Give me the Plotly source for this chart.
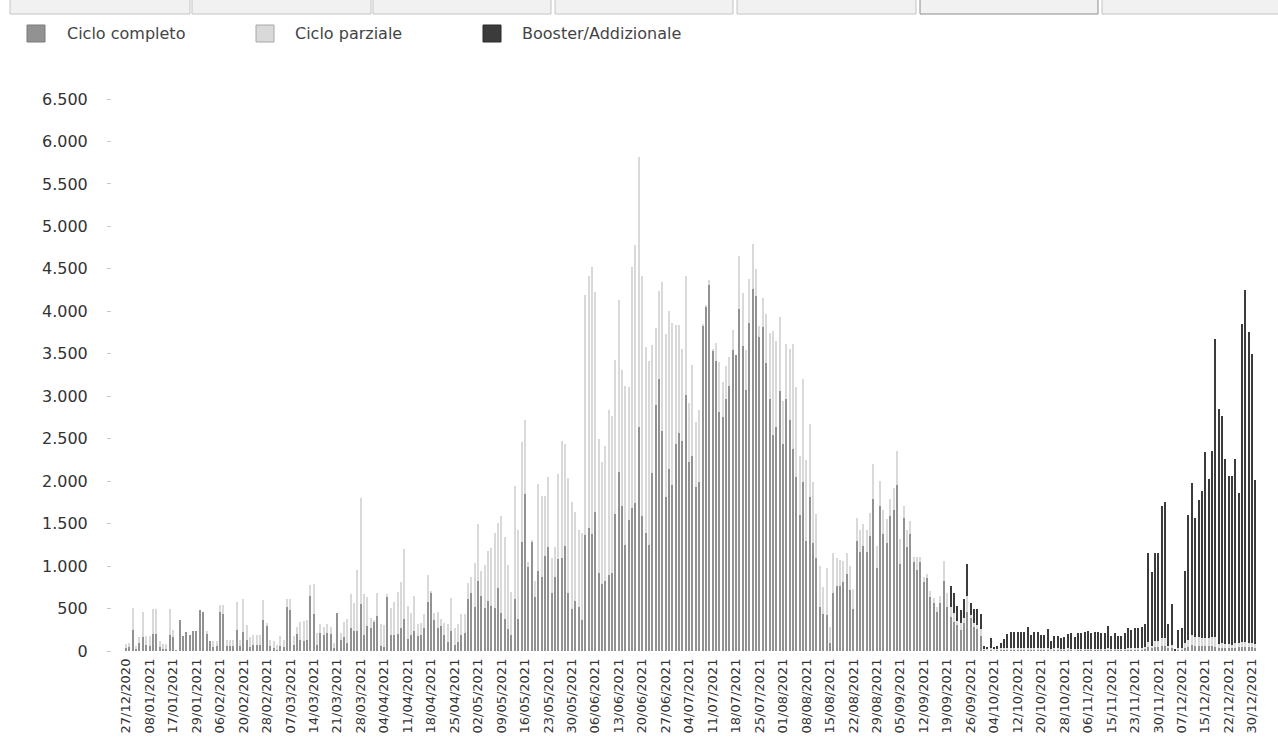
import datetime as dt
import plotly.graph_objects as go

# ---------------- DATA ----------------
TICK_LABELS = [
    "27/12/2020", "08/01/2021", "17/01/2021", "29/01/2021", "06/02/2021", "20/02/2021",
    "28/02/2021", "07/03/2021", "14/03/2021", "21/03/2021", "28/03/2021", "04/04/2021",
    "11/04/2021", "18/04/2021", "25/04/2021", "02/05/2021", "09/05/2021", "16/05/2021",
    "23/05/2021", "30/05/2021", "06/06/2021", "13/06/2021", "20/06/2021", "27/06/2021",
    "04/07/2021", "11/07/2021", "18/07/2021", "25/07/2021", "01/08/2021", "08/08/2021",
    "15/08/2021", "22/08/2021", "29/08/2021", "05/09/2021", "12/09/2021", "19/09/2021",
    "26/09/2021", "04/10/2021", "12/10/2021", "20/10/2021", "28/10/2021", "06/11/2021",
    "15/11/2021", "23/11/2021", "30/11/2021", "07/12/2021", "15/12/2021", "22/12/2021",
    "30/12/2021",
]
# number of daily categories that follow each tick label (inclusive)
DAYS_PER_TICK = [7] * 48 + [2]

SERIES_NAMES = ["Ciclo completo", "Ciclo parziale", "Booster/Addizionale"]

ciclo_completo = [
    31, 43, 248, 20, 90, 161, 71,
    59, 204, 204, 43, 27, 20, 189,
    161, 10, 362, 173, 220, 189, 236,
    236, 483, 464, 204, 118, 43, 59,
    464, 436, 59, 59, 59, 248, 59,
    220, 130, 43, 71, 71, 71, 365,
    295, 59, 30, 10, 59, 43, 523,
    483, 71, 204, 130, 118, 130, 652,
    436, 71, 216, 189, 216, 200, 31,
    452, 130, 161, 90, 275, 236, 236,
    554, 189, 295, 275, 346, 413, 59,
    51, 641, 189, 189, 200, 275, 377,
    141, 189, 236, 177, 189, 275, 582,
    680, 365, 275, 295, 189, 102, 236,
    71, 102, 189, 216, 609, 680, 523,
    829, 652, 511, 593, 534, 511, 747,
    452, 377, 259, 189, 613, 377, 1281,
    1851, 994, 1289, 641, 943, 876, 1124,
    1222, 688, 876, 1081, 1093, 1238, 688,
    495, 593, 523, 365, 1368, 1454, 1380,
    1631, 916, 790, 829, 896, 916, 1615,
    2106, 1713, 1250, 1545, 1682, 1741, 2633,
    1584, 1395, 1250, 2095, 2892, 3207, 2586,
    1812, 2146, 1957, 2441, 2566, 2468, 3018,
    2224, 2299, 1926, 1989, 3836, 4060, 4315,
    3529, 3419, 2810, 2755, 2967, 3124, 3549,
    3490, 4028, 3588, 3077, 3863, 4268, 4186,
    3694, 3812, 3392, 2967, 2547, 2633, 3065,
    2440, 2967, 2723, 2382, 2048, 1603, 1989,
    1297, 1808, 1270, 1093, 523, 436, 424,
    90, 688, 766, 766, 817, 904, 719,
    495, 1297, 1163, 1238, 1163, 1356, 1788,
    975, 1713, 1379, 1277, 1584, 1662, 1957,
    1022, 1572, 1222, 1379, 1053, 955, 1045,
    817, 857, 641, 562, 464, 562, 829,
    515, 405, 346, 306, 248, 334, 464,
    385, 287, 255, 181, 15, 10, 20,
    10, 15, 15, 20, 20, 20, 20,
    20, 15, 20, 15, 15, 15, 20,
    15, 15, 20, 10, 15, 15, 15,
    15, 15, 15, 10, 15, 15, 15,
    15, 15, 15, 15, 15, 15, 20,
    15, 15, 15, 15, 15, 20, 20,
    20, 20, 20, 25, 50, 30, 50,
    50, 60, 60, 30, 30, 5, 20,
    20, 40, 50, 70, 60, 60, 55,
    55, 60, 60, 50, 30, 40, 40,
    40, 35, 40, 45, 50, 50, 45,
    45, 40,
]

ciclo_parziale = [
    52, 55, 255, 39, 79, 303, 106,
    114, 287, 287, 75, 59, 66, 302,
    83, 0, 0, 0, 0, 0, 0,
    0, 0, 0, 32, 0, 75, 59,
    78, 106, 71, 71, 71, 334, 71,
    389, 177, 126, 118, 118, 118, 232,
    39, 71, 88, 60, 122, 90, 86,
    126, 110, 83, 216, 240, 232, 122,
    354, 145, 98, 98, 98, 87, 67,
    0, 86, 185, 283, 393, 326, 719,
    1246, 479, 346, 118, 8, 267, 259,
    255, 27, 314, 393, 500, 535, 826,
    393, 255, 416, 141, 145, 157, 314,
    27, 79, 189, 78, 145, 212, 385,
    204, 212, 243, 216, 189, 189, 511,
    664, 291, 503, 586, 684, 884, 766,
    1132, 971, 755, 511, 1332, 1050, 1175,
    865, 59, 20, 188, 1022, 955, 696,
    826, 405, 346, 1002, 1375, 1202, 1348,
    1254, 1038, 904, 1030, 2829, 2967, 3140,
    2598, 1584, 1434, 1588, 1938, 1847, 1816,
    2032, 1600, 1874, 1564, 2838, 3038, 3183,
    2837, 2181, 2161, 1505, 912, 1037, 1757,
    1925, 1863, 1906, 1395, 1270, 1089, 1403,
    696, 1073, 766, 845, 15, 8, 59,
    28, 208, 589, 413, 393, 334, 236,
    0, 621, 629, 472, 523, 519, 318,
    130, 346, 577, 778, 1218, 1014, 869,
    508, 649, 838, 1234, 1061, 696, 1218,
    955, 864, 719, 518, 479, 322, 551,
    197, 463, 334, 307, 244, 247, 283,
    232, 275, 264, 260, 264, 267, 417,
    263, 291, 283, 275, 204, 256, 393,
    298, 138, 205, 146, 59, 157, 67,
    59, 47, 66, 59, 59, 90, 232,
    165, 118, 106, 47, 86, 51, 189,
    39, 39, 51, 79, 10, 8, 20,
    8, 10, 15, 15, 20, 15, 15,
    15, 15, 15, 20, 15, 15, 15,
    15, 15, 15, 10, 15, 15, 10,
    10, 15, 10, 10, 10, 10, 10,
    10, 10, 10, 10, 10, 10, 15,
    10, 10, 10, 10, 10, 15, 15,
    15, 15, 15, 20, 60, 30, 70,
    70, 90, 90, 30, 40, 5, 20,
    20, 60, 80, 120, 100, 100, 95,
    95, 90, 100, 110, 50, 50, 40,
    40, 40, 50, 45, 60, 60, 50,
    45, 40,
]

booster_addizionale = [
    0, 0, 0, 0, 0, 0, 0, 0, 0, 0, 0, 0, 0, 0, 0, 0, 0, 0, 0, 0, 0, 0, 0, 0, 0, 0, 0, 0, 0, 0, 0, 0, 0, 0, 0,
    0, 0, 0, 0, 0, 0, 0, 0, 0, 0, 0, 0, 0, 0, 0, 0, 0, 0, 0, 0, 0, 0, 0, 0, 0, 0, 0, 0, 0, 0, 0, 0, 0, 0, 0,
    0, 0, 0, 0, 0, 0, 0, 0, 0, 0, 0, 0, 0, 0, 0, 0, 0, 0, 0, 0, 0, 0, 0, 0, 0, 0, 0, 0, 0, 0, 0, 0, 0, 0, 0,
    0, 0, 0, 0, 0, 0, 0, 0, 0, 0, 0, 0, 0, 0, 0, 0, 0, 0, 0, 0, 0, 0, 0, 0, 0, 0, 0, 0, 0, 0, 0, 0, 0, 0, 0,
    0, 0, 0, 0, 0, 0, 0, 0, 0, 0, 0, 0, 0, 0, 0, 0, 0, 0, 0, 0, 0, 0, 0, 0, 0, 0, 0, 0, 0, 0, 0, 0, 0, 0, 0,
    0, 0, 0, 0, 0, 0, 0, 0, 0, 0, 0, 0, 0, 0, 0, 0, 0, 0, 0, 0, 0, 0, 0, 0, 0, 0, 0, 0, 0, 0, 0, 0, 0, 0, 0,
    0, 0, 0, 0, 0, 0, 0, 0, 0, 0, 0, 0, 0, 0, 0, 0, 0, 0, 0, 0, 0, 0, 0, 0, 0, 0, 0, 0, 0, 0, 0, 0, 0, 0, 0,
    0, 248, 228, 181, 149, 224, 369,
    138, 169, 189, 177, 34, 25, 117,
    25, 34, 68, 106, 160, 185, 185,
    185, 198, 185, 252, 159, 190, 185,
    159, 159, 220, 98, 143, 143, 128,
    136, 170, 191, 149, 191, 191, 203,
    211, 191, 203, 203, 191, 191, 264,
    156, 183, 156, 156, 183, 240, 213,
    240, 240, 252, 269, 1049, 867, 1031,
    1031, 1563, 1610, 258, 480, 2, 208,
    235, 843, 1466, 1787, 1412, 1620, 1740,
    2188, 1874, 2198, 3518, 2769, 2673, 2184,
    1983, 1988, 2174, 1769, 3741, 4146, 3658,
    3412, 1936,
]

Y_TICKS = [0, 500, 1000, 1500, 2000, 2500, 3000, 3500, 4000, 4500, 5000, 5500, 6000, 6500]

# ---------------- CATEGORIES ----------------
categories = []
for label, n in zip(TICK_LABELS, DAYS_PER_TICK):
    start = dt.datetime.strptime(label, "%d/%m/%Y")
    for j in range(n):
        categories.append((start + dt.timedelta(days=j)).strftime("%d/%m/%Y"))

assert len(categories) == len(ciclo_completo) == len(ciclo_parziale) == len(booster_addizionale), (
    len(categories), len(ciclo_completo), len(ciclo_parziale), len(booster_addizionale))

# ---------------- LAYOUT GEOMETRY (pixels) ----------------
W_PX, H_PX = 1278, 740
L, R, T, B = 112, 20, 99, 89
PW = W_PX - L - R
PH = H_PX - T - B
N = len(categories)
X_RANGE = [-4.2, N - 0.25]


def px_x(p):
    return (p - L) / PW


def px_y(p):
    return (H_PX - B - p) / PH


COLORS = ["#929292", "#d9d9d9", "#3b3b3b"]
FONT = "DejaVu Sans, Liberation Sans, Arial, sans-serif"

fig = go.Figure()
for name, vals, col in zip(SERIES_NAMES, [ciclo_completo, ciclo_parziale, booster_addizionale], COLORS):
    fig.add_trace(go.Bar(
        x=categories, y=vals, name=name,
        marker=dict(color=col, line=dict(width=0)),
        showlegend=False,
    ))

shapes = []
annotations = []

# page tabs along the top edge
tabs = [(10, 190), (192, 371), (373, 551), (555, 733), (737, 916), (920, 1098), (1102, 1290)]
for k, (a, b) in enumerate(tabs):
    shapes.append(dict(
        type="rect", xref="paper", yref="paper",
        x0=px_x(a), x1=px_x(b), y0=px_y(14), y1=px_y(-6),
        fillcolor="#f1f1f1",
        line=dict(color="#8c8c8c" if k == 5 else "#c4c4c4", width=1),
        layer="above",
    ))

# custom legend
legend_pos = [(27, 65), (256, 293), (483, 520)]
legend_border = ["#7a7a7a", "#a8a8a8", "#2a2a2a"]
for (sx, tx), name, col, bc in zip(legend_pos, SERIES_NAMES, COLORS, legend_border):
    shapes.append(dict(
        type="rect", xref="paper", yref="paper",
        x0=px_x(sx), x1=px_x(sx + 18), y0=px_y(42), y1=px_y(25),
        fillcolor=col, line=dict(color=bc, width=1),
    ))
    annotations.append(dict(
        x=px_x(tx), y=px_y(33.5), xref="paper", yref="paper",
        text=name, showarrow=False, xanchor="left", yanchor="middle",
        font=dict(family=FONT, size=16, color="#444444"),
    ))

fig.update_layout(
    width=W_PX, height=H_PX,
    margin=dict(l=L, r=R, t=T, b=B, pad=0, autoexpand=False),
    autosize=False,
    showlegend=False,
    barmode="stack",
    bargap=0.4,
    plot_bgcolor="white",
    paper_bgcolor="white",
    separators=",.",
    font=dict(family=FONT, color="#333333"),
    shapes=shapes,
    annotations=annotations,
    xaxis=dict(
        type="category",
        range=X_RANGE,
        automargin=False,
        tickmode="array",
        tickvals=TICK_LABELS,
        ticktext=TICK_LABELS,
        tickangle=-90,
        tickfont=dict(family=FONT, size=13, color="#333333"),
        showgrid=False, showline=False, zeroline=False,
        ticks="", ticklabelstandoff=4,
    ),
    yaxis=dict(
        range=[0, 6500],
        automargin=False,
        tickmode="array",
        tickvals=Y_TICKS,
        tickformat=",d",
        tickfont=dict(family=FONT, size=16, color="#333333"),
        showgrid=False, showline=False, zeroline=False,
        ticks="outside", ticklen=4, tickcolor="#c8c8c8", tickwidth=1,
        ticklabelstandoff=16,
    ),
)

fig.write_html(
    "out.html",
    config={"displayModeBar": False},
    post_script="document.body.style.margin='0px';document.body.style.overflow='hidden';",
)
